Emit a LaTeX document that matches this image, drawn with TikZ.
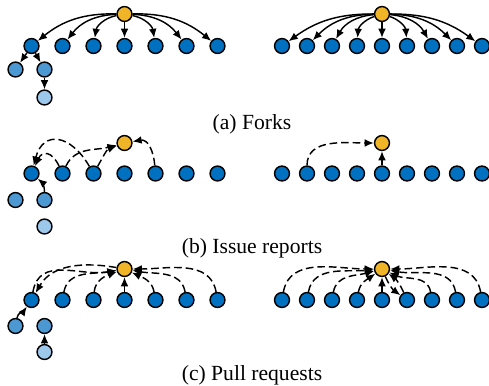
\documentclass[tikz,border=0pt]{standalone}
\usepackage{fontspec}
\setmainfont{Liberation Serif}
\usetikzlibrary{arrows.meta}
\definecolor{upcol}{RGB}{240,180,40}
\definecolor{forkcol}{RGB}{0,112,192}
\definecolor{subcol}{RGB}{75,152,210}
\definecolor{leafcol}{RGB}{155,200,235}
\tikzset{
	repo/.style={circle,draw=black,line width=0.6pt,minimum size=6.2pt,inner sep=0pt},
	upstream/.style={repo,fill=upcol},
	fork/.style={repo,fill=forkcol},
	subfork/.style={repo,fill=subcol},
	subsub/.style={repo,fill=leafcol},
	link/.style={line width=0.6pt,-{Latex[length=3.8pt,width=3.2pt]}},
	dlink/.style={link,dash pattern=on 3.2pt off 1.6pt},
	caption/.style={font=\fontsize{9}{11}\selectfont}
}
\begin{document}
\begin{tikzpicture}[x=0.41667pt,y=0.41667pt]
	\useasboundingbox (0,0) rectangle (489,-385);
	\node[upstream] (a0) at (124.5,-14) {};
	\foreach \i in {1,...,7}
		\node[fork] (a\i) at ({31.5+31*(\i-1)},-46) {};
	\node[subfork] (a11) at (15.5,-69.5) {};
	\node[subfork] (a12) at (44.5,-69.5) {};
	\node[subsub] (a13) at (44.5,-97.5) {};
	\foreach \i/\b in {1/20,2/25,3/35}
		\draw[link] (a0) to[bend right=\b] (a\i);
	\draw[link] (a0) -- (a4);
	\foreach \i/\b in {5/35,6/25,7/20}
		\draw[link] (a0) to[bend left=\b] (a\i);
	\draw[link] (a1) -- (a11);
	\draw[link] (a1) -- (a12);
	\draw[link] (a12) -- (a13);
	\node[upstream] (ar0) at (382,-14) {};
	\foreach \i in {1,...,9}
		\node[fork] (ar\i) at ({282+25*(\i-1)},-46) {};
	\foreach \i/\b in {1/18,2/22,3/28,4/34}
		\draw[link] (ar0) to[bend right=\b] (ar\i);
	\draw[link] (ar0) -- (ar5);
	\foreach \i/\b in {6/34,7/28,8/22,9/18}
		\draw[link] (ar0) to[bend left=\b] (ar\i);
	\node[caption] (capa) at (252,-124.5) {(a) Forks};

	\node[upstream] (b0) at (124.5,-143) {};
	\foreach \i in {1,...,7}
		\node[fork] (b\i) at ({31.5+31*(\i-1)},-173.5) {};
	\node[subfork] (b11) at (15.5,-200) {};
	\node[subfork] (b12) at (44.5,-200) {};
	\node[subsub] (b13) at (44.5,-226.5) {};
	\draw[dlink] (b2) to[out=115,in=65,looseness=1.8] (b1);
	\draw[dlink] (b3) to[out=120,in=75,looseness=1.7] (b1);
	\draw[dlink] (b2) to[out=65,in=195] (b0);
	\draw[dlink] (b3) to[out=60,in=200] (b0);
	\draw[dlink] (b5) to[out=95,in=10,looseness=1.2] (b0);
	\draw[link] (b12) to[out=90,in=-40] (b1);
	\node[upstream] (br0) at (382,-143) {};
	\foreach \i in {1,...,9}
		\node[fork] (br\i) at ({282+25*(\i-1)},-173.5) {};
	\draw[dlink] (br2) to[out=90,in=180] (br0);
	\draw[link] (br5) -- (br0);
	\node[caption] (capb) at (252,-248.5) {(b) Issue reports};

	\node[upstream] (c0) at (124.5,-269) {};
	\foreach \i in {1,...,7}
		\node[fork] (c\i) at ({31.5+31*(\i-1)},-300) {};
	\node[subfork] (c11) at (15.5,-326) {};
	\node[subfork] (c12) at (44.5,-326) {};
	\node[subsub] (c13) at (44.5,-352) {};
	\draw[dlink] (c0) to[out=170,in=60] (c1);
	\draw[dlink] (c1) to[out=80,in=190,looseness=1.1] (c0);
	\draw[dlink] (c2) to[out=80,in=190] (c0);
	\draw[dlink] (c3) to[out=85,in=200] (c0);
	\draw[link] (c4) -- (c0);
	\foreach \i/\a in {5/-25,6/-10,7/0}
		\draw[dlink] (c\i) to[out=100,in=\a] (c0);
	\draw[link] (c11) to[out=80,in=235] (c1);
	\draw[link] (c13) -- (c12);
	\node[upstream] (cr0) at (382,-269) {};
	\foreach \i in {1,...,9}
		\node[fork] (cr\i) at ({282+25*(\i-1)},-300) {};
	\foreach \i/\a in {1/180,2/185,3/195,4/215}
		\draw[dlink] (cr\i) to[out=80,in=\a] (cr0);
	\draw[link] (cr5) -- (cr0);
	\draw[dlink] (cr6) to[bend right=15] (cr0);
	\draw[dlink] (cr0) to[bend right=15] (cr6);
	\foreach \i/\a in {7/-25,8/-10,9/0}
		\draw[dlink] (cr\i) to[out=100,in=\a] (cr0);
	\node[caption] (capc) at (252,-375.5) {(c) Pull requests};
\end{tikzpicture}
\end{document}
